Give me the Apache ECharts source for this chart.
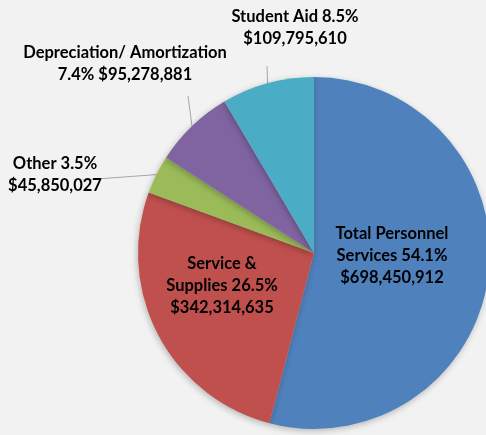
<!DOCTYPE html>
<html>
<head>
<meta charset="utf-8">
<script src="https://cdn.jsdelivr.net/npm/echarts@6/dist/echarts.min.js"></script>
<style>
  html, body { margin: 0; padding: 0; background: #f2f2f2; }
  #chart { width: 486px; height: 435px; }
</style>
</head>
<body>
<div id="chart"></div>
<script>
// Expense categories and amounts (USD)
const categories = ['Total Personnel Services', 'Service & Supplies', 'Other', 'Depreciation/ Amortization', 'Student Aid'];
const amounts = [698450912, 342314635, 45850027, 95278881, 109795610];
const colors = ['#4f81bd', '#c0504d', '#9bbb59', '#8064a2', '#4bacc6'];
// Label wording: {p} = share, {v} = amount
const labelTemplates = [
  'Total Personnel\nServices {p}\n{v}',
  'Service &\nSupplies {p}\n{v}',
  'Other {p}\n{v}',
  'Depreciation/ Amortization\n{p} {v}',
  'Student Aid {p}\n{v}'
];
// Label centres and leader-line ends (null = label sits inside its slice)
const labelSpots = [[392, 256], [222, 286], [55, 175], [125, 64], [295, 28]];
const leaderEnds = [null, null, [83, 180], [188, 96], [267, 66]];

const total = amounts.reduce((a, b) => a + b, 0);
const money = v => '$' + v.toLocaleString('en-US');

const chart = echarts.init(document.getElementById('chart'));
chart.setOption({
  backgroundColor: '#f2f2f2',
  animation: false,
  series: [{
    type: 'pie',
    center: [314, 253],
    radius: 176,
    startAngle: 90,
    clockwise: true,
    avoidLabelOverlap: false,
    data: categories.map((name, i) => ({
      name,
      value: amounts[i],
      itemStyle: { color: colors[i] },
      labelLine: { show: leaderEnds[i] !== null }
    })),
    itemStyle: { borderWidth: 0, shadowBlur: 6, shadowColor: 'rgba(0,0,0,0.25)', shadowOffsetX: -1, shadowOffsetY: 2 },
    label: {
      show: true,
      position: 'outside',
      color: '#000',
      fontFamily: 'Lato',
      fontWeight: 'bold',
      fontSize: 16.5,
      lineHeight: 22,
      align: 'center',
      formatter: p => labelTemplates[p.dataIndex]
        .replace('{p}', (p.value / total * 100).toFixed(1) + '%')
        .replace('{v}', money(p.value))
    },
    labelLine: {
      show: true,
      lineStyle: { color: '#a6a6a6', width: 1 },
      length: 10,
      length2: 10
    },
    labelLayout: params => {
      const i = params.dataIndex;
      const spot = labelSpots[i];
      const out = { x: spot[0], y: spot[1], align: 'center', verticalAlign: 'middle' };
      if (leaderEnds[i] && params.labelLinePoints) {
        const start = params.labelLinePoints[0];
        out.labelLinePoints = [start, leaderEnds[i], leaderEnds[i]];
      }
      return out;
    },
    emphasis: { disabled: true }
  }]
});
</script>
</body>
</html>
